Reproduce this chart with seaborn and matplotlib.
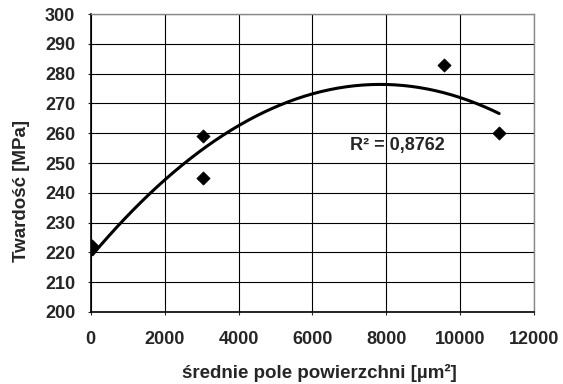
import numpy as np
import pandas as pd
import matplotlib
matplotlib.use("Agg")
import matplotlib.pyplot as plt
import seaborn as sns

pole = [50, 3050, 3050, 9550, 11050]
twardosc = [222, 259, 245, 283, 260]
r2_label = "R² = 0,8762"
x_ticks = [0, 2000, 4000, 6000, 8000, 10000, 12000]
y_ticks = [200, 210, 220, 230, 240, 250, 260, 270, 280, 290, 300]

df = pd.DataFrame({"pole": pole, "twardosc": twardosc})

sns.set_style("white")
plt.rcParams['font.family'] = ['Liberation Sans', 'DejaVu Sans']
plt.rcParams['font.weight'] = 'bold'

fig = plt.figure(figsize=(5.63, 3.84), dpi=100)
ax = fig.add_axes([0.161, 0.1875, 0.788, 0.776])

# polynomial (2nd order) trend line, like Excel
coef = np.polyfit(df["pole"], df["twardosc"], 2)
xs = np.linspace(df["pole"].min(), df["pole"].max(), 200)
ax.plot(xs, np.polyval(coef, xs), color="black", lw=2.2, zorder=3)

sns.scatterplot(data=df, x="pole", y="twardosc", marker="D", s=45,
                color="black", edgecolor="black", ax=ax, zorder=4)

ax.set_xlim(0, 12000)
ax.set_ylim(200, 300)
ax.set_xticks(x_ticks)
ax.set_yticks(y_ticks)
ax.set_xticklabels([str(t) for t in x_ticks], fontsize=13, fontweight="bold")
ax.set_yticklabels([str(t) for t in y_ticks], fontsize=13, fontweight="bold")
ax.grid(True, color="black", lw=0.8)
ax.set_axisbelow(True)
for s in ["left", "bottom"]:
    ax.spines[s].set_color("black")
    ax.spines[s].set_linewidth(1.2)
for s in ["top", "right"]:
    ax.spines[s].set_color("#888888")
    ax.spines[s].set_linewidth(1.0)
ax.tick_params(axis="both", length=2, width=0.8, direction="out",
               left=True, bottom=True)
ax.tick_params(axis="x", pad=12)
ax.tick_params(axis="y", pad=9)

ax.text(8300, 256, r2_label, fontsize=13, fontweight="bold", ha="center",
        va="center")

ax.set_xlabel("średnie pole powierzchni [µm²]", fontsize=13.5,
              fontweight="bold")
ax.set_ylabel("Twardość [MPa]", fontsize=13.5, fontweight="bold")
ax.xaxis.set_label_coords(0.515, -0.175)
ax.yaxis.set_label_coords(-0.137, 0.406)

fig.savefig("out.png", dpi=100)
